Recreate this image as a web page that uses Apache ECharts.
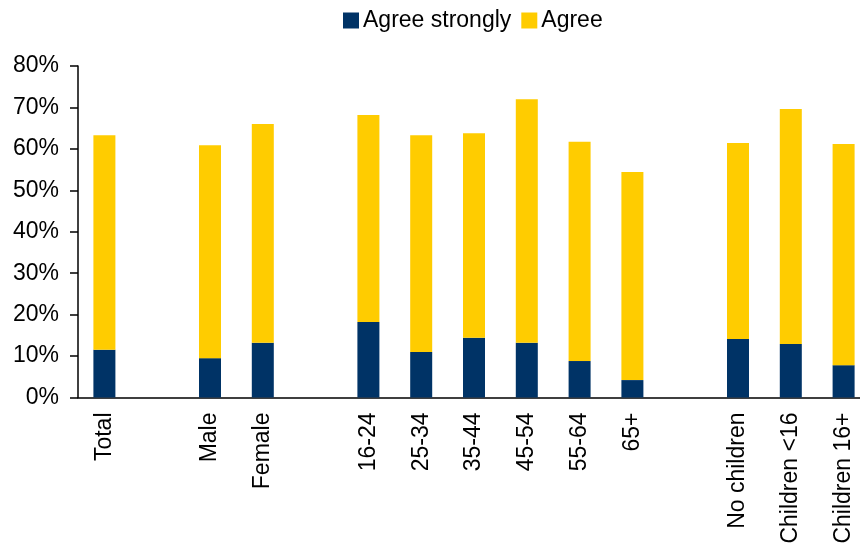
<!DOCTYPE html>
<html>
<head>
<meta charset="utf-8">
<script src="https://cdn.jsdelivr.net/npm/echarts@6/dist/echarts.min.js"></script>
<style>
  html, body { margin: 0; padding: 0; background: #fff; }
  #chart { width: 860px; height: 545px; }
</style>
</head>
<body>
<div id="chart"></div>
<script>
// Groups are separated by empty categories (Total | gender | age | children)
const categories = ['Total', '', 'Male', 'Female', '', '16-24', '25-34', '35-44', '45-54', '55-64', '65+', '', 'No children', 'Children <16', 'Children 16+'];
const agreeStrongly = [11.5, null, 9.5, 13.2, null, 18.2, 11.0, 14.4, 13.2, 8.8, 4.2, null, 14.1, 12.9, 7.8];
const agree = [51.8, null, 51.4, 52.8, null, 50.0, 52.3, 49.4, 58.8, 52.9, 50.2, null, 47.3, 56.7, 53.4];
const yTicks = { min: 0, max: 80, interval: 10 };

const FONT = '"Liberation Sans", Arial, sans-serif';
const chart = echarts.init(document.getElementById('chart'), null, { renderer: 'canvas' });

chart.setOption({
  animation: false,
  backgroundColor: '#ffffff',
  textStyle: { fontFamily: FONT, color: '#000' },
  legend: {
    top: 9,
    left: 343,
    padding: 0,
    itemWidth: 16,
    itemHeight: 16,
    itemGap: 10,
    icon: 'rect',
    textStyle: { fontFamily: FONT, fontSize: 23, color: '#000', padding: [0, 0, 0, -1] },
    data: ['Agree strongly', 'Agree']
  },
  grid: { left: 78, top: 66, width: 792, height: 331.5, containLabel: false, outerBoundsMode: 'none' },
  xAxis: {
    type: 'category',
    data: categories,
    boundaryGap: true,
    axisLine: { show: true, lineStyle: { color: '#000', width: 1.5 } },
    axisTick: { show: false },
    axisLabel: {
      rotate: 90,
      interval: 0,
      margin: 15,
      fontFamily: FONT,
      fontSize: 23,
      color: '#000'
    }
  },
  yAxis: {
    type: 'value',
    min: yTicks.min,
    max: yTicks.max,
    interval: yTicks.interval,
    axisLine: { show: true, lineStyle: { color: '#000', width: 1.5 } },
    axisTick: { show: true, length: 8, lineStyle: { color: '#000', width: 1.5 } },
    splitLine: { show: false },
    axisLabel: {
      formatter: '{value}%',
      margin: 19,
      fontFamily: FONT,
      fontSize: 23,
      color: '#000'
    }
  },
  series: [
    {
      name: 'Agree strongly',
      type: 'bar',
      stack: 'total',
      barWidth: 22,
      itemStyle: { color: '#003366' },
      data: agreeStrongly
    },
    {
      name: 'Agree',
      type: 'bar',
      stack: 'total',
      barWidth: 22,
      itemStyle: { color: '#FFCC00' },
      data: agree
    }
  ]
});
</script>
</body>
</html>
